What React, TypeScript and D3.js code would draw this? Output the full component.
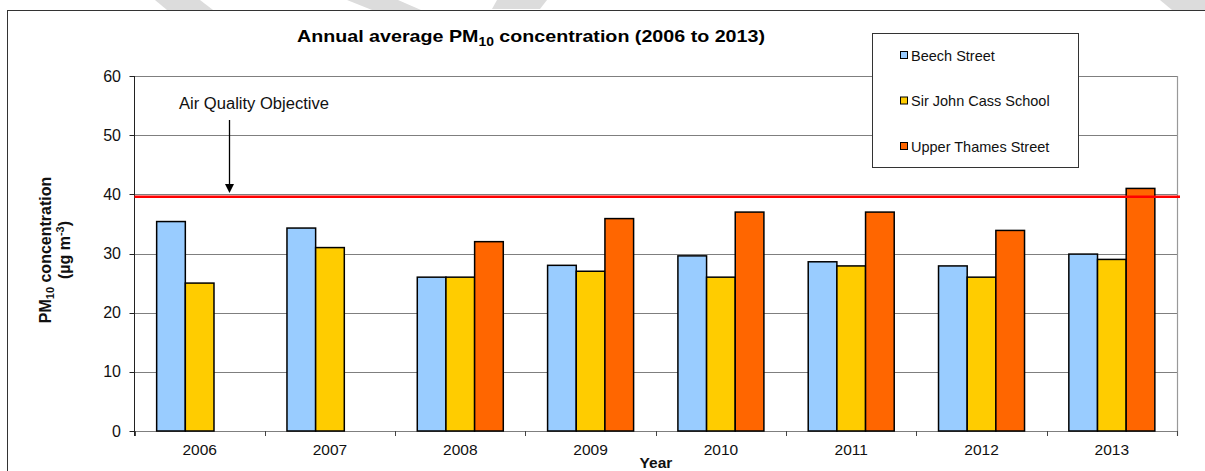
import React from "react";
import * as d3 from "d3";

const years = ["2006", "2007", "2008", "2009", "2010", "2011", "2012", "2013"];
const seriesNames = ["Beech Street", "Sir John Cass School", "Upper Thames Street"];
const seriesColors = ["#99CCFF", "#FFCC00", "#FF6600"];
const beechStreet = [35.4, 34.3, 26.0, 28.0, 29.6, 28.6, 27.9, 29.9];
const sirJohnCass = [25.0, 31.0, 26.0, 27.0, 26.0, 27.9, 26.0, 29.0];
const upperThames = [null, null, 32.0, 35.9, 37.0, 37.0, 33.9, 41.0];
const yTicks = [0, 10, 20, 30, 40, 50, 60];
const objectiveValue = 39.6;

const W = 1205;
const H = 471;
const FONT = "Arial, 'Liberation Sans', Helvetica, sans-serif";

export default function App() {
  const left = 134.5;
  const right = 1177;
  const top = 76;
  const bottom = 431;

  const x = d3.scaleBand<string>().domain(years).range([left, right]).paddingInner(0.34).paddingOuter(0.17);
  const xs = d3.scaleBand<string>().domain(seriesNames).range([0, x.bandwidth()]);
  const y = d3.scaleLinear().domain([0, 60]).range([bottom, top]);

  const data = [beechStreet, sirJohnCass, upperThames];
  const step = (right - left) / years.length;

  const watermark = [
    "155,0 200,0 213,10 167,10",
    "347,0 398,0 421,10 372,10",
    "497,0 547,0 540,9 492,9",
    "1160,0 1205,0 1205,10 1172,10",
  ];

  return (
    <svg width={W} height={H} style={{ position: "absolute", left: 0, top: 0, display: "block" }} fontFamily={FONT}>
      <rect x={0} y={0} width={W} height={H} fill="#fff" />
      {watermark.map((p, i) => (
        <polygon key={i} points={p} fill="#dcdcdc" />
      ))}
      {/* outer chart border */}
      <rect x={7.5} y={10.5} width={W} height={H} fill="none" stroke="#333" strokeWidth={1} />

      {/* title */}
      <text x={297} y={42} fontSize={17} fontWeight="bold" fill="#000" textLength={468} lengthAdjust="spacingAndGlyphs">
        Annual average PM<tspan fontSize={12} dy={4}>10</tspan>
        <tspan dy={-4}> concentration (2006 to 2013)</tspan>
      </text>

      {/* gridlines */}
      {yTicks.map((t) => (
        <line key={t} x1={left} x2={right} y1={Math.round(y(t)) + 0.5} y2={Math.round(y(t)) + 0.5} stroke="#7f7f7f" strokeWidth={1} />
      ))}
      {/* right plot border */}
      <line x1={right + 0.5} x2={right + 0.5} y1={top} y2={bottom + 5} stroke="#999" strokeWidth={1.2} />

      {/* y axis */}
      <line x1={left} x2={left} y1={top} y2={bottom + 5} stroke="#222" strokeWidth={1} />
      {yTicks.map((t) => (
        <g key={t}>
          <line x1={left - 5} x2={left} y1={Math.round(y(t)) + 0.5} y2={Math.round(y(t)) + 0.5} stroke="#222" />
          <text x={121} y={y(t) + 5.5} textAnchor="end" fontSize={16} fill="#111">
            {t}
          </text>
        </g>
      ))}

      {/* x ticks */}
      {d3.range(years.length + 1).map((i) => (
        <line key={i} x1={Math.round(left + i * step) + 0.5} x2={Math.round(left + i * step) + 0.5} y1={bottom} y2={bottom + 5} stroke="#444" />
      ))}
      {years.map((yr) => (
        <text key={yr} x={(x(yr) as number) + x.bandwidth() / 2} y={455} textAnchor="middle" fontSize={15.5} fill="#111">
          {yr}
        </text>
      ))}

      {/* bars */}
      {data.map((vals, si) =>
        vals.map((v, i) =>
          v == null ? null : (
            <rect
              key={`${si}-${i}`}
              x={(x(years[i]) as number) + (xs(seriesNames[si]) as number)}
              y={y(v)}
              width={xs.bandwidth()}
              height={bottom - y(v)}
              fill={seriesColors[si]}
              stroke="#000"
              strokeWidth={1.5}
            />
          )
        )
      )}

      {/* objective line */}
      <line x1={left} x2={right + 3} y1={y(objectiveValue)} y2={y(objectiveValue)} stroke="#FF0000" strokeWidth={2.5} />

      {/* annotation */}
      <text x={179} y={109} fontSize={16} fill="#111" textLength={150} lengthAdjust="spacingAndGlyphs">
        Air Quality Objective
      </text>
      <line x1={229.5} x2={229.5} y1={120} y2={185} stroke="#000" strokeWidth={1.3} />
      <polygon points="225,184 234,184 229.5,193" fill="#000" />

      {/* axis titles */}
      <text x={656} y={468} textAnchor="middle" fontSize={15.5} fontWeight="bold" fill="#111">
        Year
      </text>
      <g transform="translate(51,250) rotate(-90)">
        <text x={0} y={0} textAnchor="middle" fontSize={16} fontWeight="bold" fill="#111">
          PM<tspan fontSize={11} dy={3}>10</tspan>
          <tspan dy={-3}> concentration</tspan>
        </text>
        <text x={0} y={19} textAnchor="middle" fontSize={16} fontWeight="bold" fill="#111">
          (µg m<tspan fontSize={11} dy={-6}>-3</tspan>
          <tspan dy={6}>)</tspan>
        </text>
      </g>

      {/* legend */}
      <rect x={872.5} y={33.5} width={206} height={134} fill="#fff" stroke="#333" strokeWidth={1} />
      {seriesNames.map((name, i) => (
        <g key={name} transform={`translate(900, ${55 + i * 45.5})`}>
          <rect x={0.5} y={-3.5} width={7} height={7} fill={seriesColors[i]} stroke="#000" strokeWidth={1} />
          <text x={11} y={5.5} fontSize={14.5} fill="#111">
            {name}
          </text>
        </g>
      ))}
    </svg>
  );
}
